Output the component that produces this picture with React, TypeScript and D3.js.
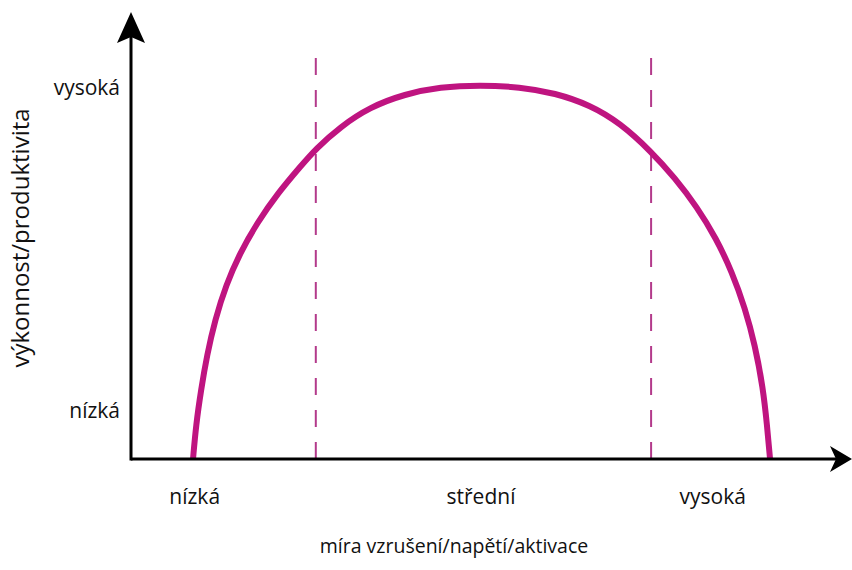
import React from "react";
import * as d3 from "d3";

// arousal (x) and performance (y) in arbitrary 0–10 units
const curveX = [0.886, 0.929, 1.0, 1.086, 1.2, 1.357, 1.557, 1.8, 2.1, 2.414, 2.643, 2.986, 3.414, 3.914, 4.414, 4.986, 5.557, 6.057, 6.557, 6.986, 7.429, 7.771, 8.086, 8.357, 8.586, 8.771, 8.914, 9.029, 9.086, 9.129];
const curveY = [0, 0.85, 1.725, 2.6, 3.475, 4.35, 5.15, 5.9, 6.65, 7.3, 7.76, 8.3, 8.8, 9.125, 9.3, 9.35, 9.3, 9.15, 8.85, 8.4, 7.69, 7.025, 6.3, 5.525, 4.675, 3.775, 2.85, 1.775, 0.85, 0];
const dividers = [2.64, 7.43];
const xTickLabels = ["nízká", "střední", "vysoká"];
const xTickValues = [0.91, 5.0, 8.31];
const yTickLabels = ["nízká", "vysoká"];
const yTickValues = [1.2, 9.28];
const xTitle = "míra vzrušení/napětí/aktivace";
const yTitle = "výkonnost/produktivita";

const W = 852;
const H = 570;
const FONT = "'Open Sans', 'Noto Sans', sans-serif";

export default function App() {
  const x = d3.scaleLinear().domain([0, 10]).range([131, 831]);
  const y = d3.scaleLinear().domain([0, 10]).range([459, 59]);
  const pts: [number, number][] = curveX.map((v, i) => [x(v), y(curveY[i])]);
  const line = d3.line().curve(d3.curveBasis);
  const x0 = x(0);
  const y0 = y(0);

  return (
    <svg width={W} height={H} style={{ position: "absolute", left: 0, top: 0, background: "#fff" }}>
      {dividers.map((d, i) => (
        <line key={i} x1={x(d)} x2={x(d)} y1={y(0)} y2={55} stroke="#b33a8b" strokeWidth={2} strokeDasharray="17 15" />
      ))}
      <path d={line(pts) || ""} fill="none" stroke="#bf1480" strokeWidth={6} strokeLinecap="butt" />
      {/* axes */}
      <line x1={x0} x2={x0} y1={y0 + 1.5} y2={30} stroke="#000" strokeWidth={3} />
      <line x1={x0} x2={838} y1={y0} y2={y0} stroke="#000" strokeWidth={3} />
      <path d={`M${x0},12 L${x0 + 14},43 L${x0},37 L${x0 - 14},43 Z`} fill="#000" />
      <path d={`M852,${y0} L830,${y0 + 13} L836,${y0} L830,${y0 - 13} Z`} fill="#000" />
      {xTickLabels.map((t, i) => (
        <text key={t} x={x(xTickValues[i])} y={504} textAnchor="middle" fontFamily={FONT} fontSize={21} fill="#111">{t}</text>
      ))}
      {yTickLabels.map((t, i) => (
        <text key={t} x={120} y={y(yTickValues[i]) + 7} textAnchor="end" fontFamily={FONT} fontSize={21} fill="#111">{t}</text>
      ))}
      <text x={454} y={553} textAnchor="middle" fontFamily={FONT} fontSize={19.5} fill="#111">{xTitle}</text>
      <text transform={`translate(29,238) rotate(-90)`} textAnchor="middle" fontFamily={FONT} fontSize={24} fill="#111">{yTitle}</text>
    </svg>
  );
}
